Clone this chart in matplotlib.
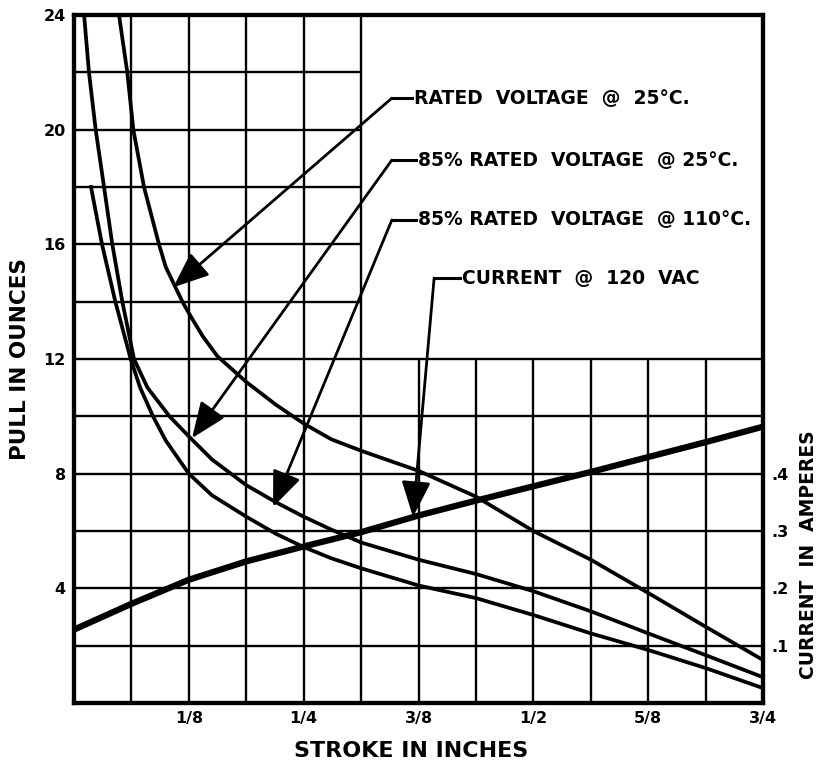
import matplotlib
matplotlib.use("Agg")
import matplotlib.pyplot as plt

# pull (ounces) vs stroke (inches)
stroke_rated = [0.049, 0.058, 0.0646, 0.0762, 0.0925, 0.1, 0.118, 0.125, 0.14, 0.156,
                0.1875, 0.22, 0.25, 0.28, 0.3125, 0.375, 0.4375, 0.5, 0.5625, 0.625,
                0.6875, 0.75]
pull_rated = [24, 22, 20, 18, 16, 15.2, 14, 13.6, 12.8, 12.1,
              11.2, 10.4, 9.75, 9.2, 8.8, 8.1, 7.2, 6.0, 5.0, 3.84,
              2.66, 1.5]

stroke_85_25 = [0.011, 0.0163, 0.0236, 0.0327, 0.0417, 0.0526, 0.0653, 0.08, 0.104,
                0.125, 0.15, 0.1875, 0.22, 0.25, 0.28, 0.3125, 0.375, 0.4375, 0.5,
                0.5625, 0.625, 0.6875, 0.75]
pull_85_25 = [24, 22, 20, 18, 16, 14, 12, 11.0, 10,
              9.3, 8.5, 7.6, 7.0, 6.5, 6.05, 5.6, 5.0, 4.5, 3.9,
              3.2, 2.43, 1.67, 0.9]

stroke_85_110 = [0.0185, 0.0305, 0.045, 0.0617, 0.072, 0.086, 0.1, 0.125, 0.15,
                 0.1875, 0.22, 0.25, 0.28, 0.3125, 0.375, 0.4375, 0.5, 0.5625,
                 0.625, 0.6875, 0.75]
pull_85_110 = [18, 16, 14, 12, 11.0, 10, 9.15, 8.0, 7.25,
               6.5, 5.9, 5.44, 5.05, 4.7, 4.1, 3.66, 3.07, 2.43,
               1.85, 1.22, 0.52]

# current (amperes) at every 1/16 inch
stroke_current = [i / 16 for i in range(13)]
amps = [0.128, 0.173, 0.215, 0.247, 0.273, 0.298, 0.327, 0.353, 0.378,
        0.403, 0.429, 0.455, 0.482]

x_ticks = [1/8, 1/4, 3/8, 1/2, 5/8, 3/4]
x_labels = ["1/8", "1/4", "3/8", "1/2", "5/8", "3/4"]
y_ticks = [4, 8, 12, 16, 20, 24]
amp_ticks = [0.1, 0.2, 0.3, 0.4]
amp_labels = [".1", ".2", ".3", ".4"]

plt.rcParams["font.family"] = ["DejaVu Sans"]

fig = plt.figure(figsize=(8.24, 7.69), dpi=100)
ax = fig.add_axes([0.0898, 0.0858, 0.8362, 0.8947])
ax.set_xlim(0, 0.75)
ax.set_ylim(0, 24)

# grid: full below 12 oz, only the left part (to 5/16) above
lw_grid = 1.7
for i in range(1, 12):
    top = 24 if i <= 5 else 12
    ax.vlines(i / 16, 0, top, color="black", lw=lw_grid, zorder=1)
for y in range(2, 13, 2):
    ax.hlines(y, 0, 0.75, color="black", lw=lw_grid, zorder=1)
for y in range(14, 24, 2):
    ax.hlines(y, 0, 5/16, color="black", lw=lw_grid, zorder=1)

ax.plot(stroke_rated, pull_rated, color="black", lw=2.7, zorder=3)
ax.plot(stroke_85_25, pull_85_25, color="black", lw=2.7, zorder=3)
ax.plot(stroke_85_110, pull_85_110, color="black", lw=2.7, zorder=3)

for s in ax.spines.values():
    s.set_linewidth(3)

ax.set_xticks(x_ticks)
ax.set_xticklabels(x_labels, fontsize=11.5, fontweight="bold")
ax.set_yticks(y_ticks)
ax.set_yticklabels([str(v) for v in y_ticks], fontsize=11.5, fontweight="bold")
ax.tick_params(length=0, pad=6)
ax.set_xlabel("STROKE IN INCHES", fontsize=16, fontweight="bold")
ax.xaxis.set_label_coords(0.49, -0.055)
ax.set_ylabel("PULL IN OUNCES", fontsize=15.5, fontweight="bold")
ax.yaxis.set_label_coords(-0.064, 0.5)

ax2 = ax.twinx()
ax2.set_ylim(0, 1.2)
ax2.plot(stroke_current, amps, color="black", lw=4.5, solid_capstyle="butt", zorder=3)
ax2.set_yticks(amp_ticks)
ax2.set_yticklabels(amp_labels, fontsize=11.5, fontweight="bold")
ax2.tick_params(length=0, pad=6)
ax2.set_ylabel("CURRENT  IN  AMPERES", fontsize=13.5, fontweight="bold")
ax2.yaxis.set_label_coords(1.052, 0.215)
for s in ax2.spines.values():
    s.set_linewidth(3)

# callouts: (label, text pos, bend, arrow tip)
callouts = [
    ("RATED  VOLTAGE  @  25°C.", (0.370, 21.1), (0.346, 21.1), (0.108, 14.5)),
    ("85% RATED  VOLTAGE  @ 25°C.", (0.374, 18.94), (0.346, 18.94), (0.1285, 9.24)),
    ("85% RATED  VOLTAGE  @ 110°C.", (0.374, 16.85), (0.346, 16.85), (0.2167, 6.84)),
    ("CURRENT  @  120  VAC", (0.422, 14.82), (0.392, 14.82), (0.369, 6.49)),
]
for label, tpos, bend, tip in callouts:
    ax.plot([bend[0], tpos[0] - 0.002], [bend[1], bend[1]], color="black", lw=2.2, zorder=4)
    ax.annotate("", xy=tip, xytext=bend,
                arrowprops=dict(arrowstyle="-|>,head_length=1.1,head_width=0.45",
                                mutation_scale=20, color="black", lw=2,
                                shrinkA=0, shrinkB=0),
                zorder=4)
    ax.text(tpos[0], tpos[1], label, fontsize=13.5, fontweight="bold",
            va="center", ha="left", zorder=5)

fig.savefig("out.png", dpi=100)
